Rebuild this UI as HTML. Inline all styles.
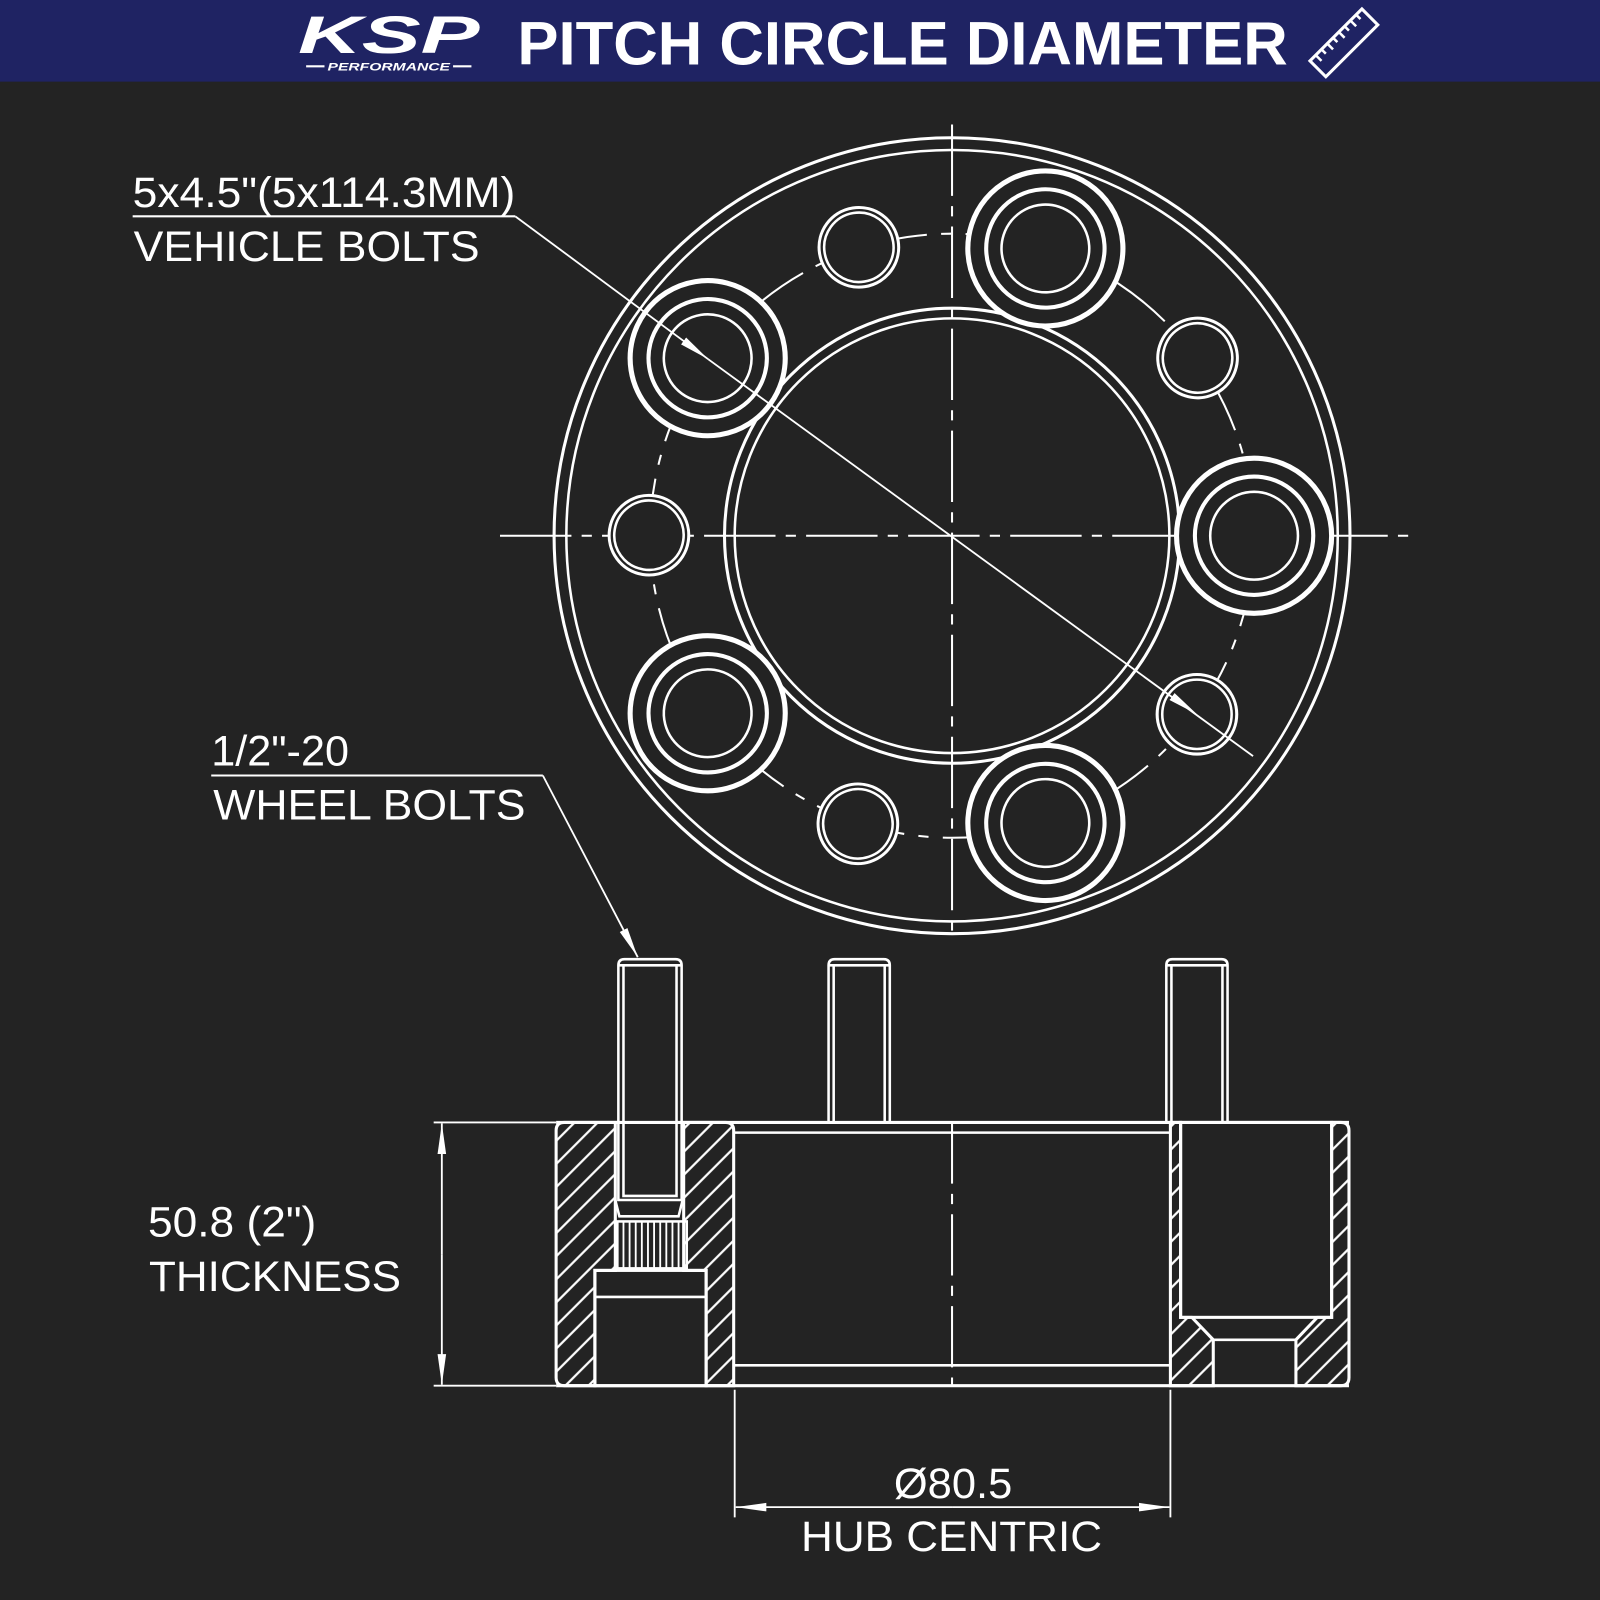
<!DOCTYPE html>
<html><head><meta charset="utf-8"><style>
html,body{margin:0;padding:0;background:#232323;width:1600px;height:1600px;overflow:hidden}
svg{display:block}
text{font-family:"Liberation Sans",sans-serif;fill:#fff}
</style></head><body>
<svg width="1600" height="1600" viewBox="0 0 1568 1568" xmlns="http://www.w3.org/2000/svg">
<defs>
<pattern id="h" patternUnits="userSpaceOnUse" width="16" height="16" patternTransform="rotate(-45)">
<rect width="16" height="16" fill="#232323"/><line x1="0" y1="8" x2="16" y2="8" stroke="#fff" stroke-width="2.2"/>
</pattern>
<marker id="a2" viewBox="0 0 10 10" refX="10" refY="5" markerWidth="30" markerHeight="14" markerUnits="userSpaceOnUse" orient="auto" preserveAspectRatio="none"><path d="M0,2 L10,5 L0,8z" fill="#fff"/></marker>
</defs>
<rect width="1568" height="1568" fill="#232323"/>
<rect width="1568" height="80" fill="#1f2363"/>
<text x="292" y="52" font-size="52" font-weight="bold" font-style="italic" textLength="178" lengthAdjust="spacingAndGlyphs">KSP</text>
<line x1="300" y1="65" x2="318" y2="65" stroke="#fff" stroke-width="2"/>
<line x1="444" y1="65" x2="462" y2="65" stroke="#fff" stroke-width="2"/>
<text x="321" y="69" font-size="11" font-weight="bold" font-style="italic" textLength="120" lengthAdjust="spacingAndGlyphs">PERFORMANCE</text>
<text x="507" y="63" font-size="60" font-weight="bold" textLength="755" lengthAdjust="spacingAndGlyphs">PITCH CIRCLE DIAMETER</text>
<g transform="translate(1317,42) rotate(-45)" stroke="#fff" stroke-width="3" fill="none">
<rect x="-36" y="-11" width="72" height="22"/>
<path d="M-28,-11v8M-20,-11v6M-12,-11v8M-4,-11v6M4,-11v8M12,-11v6M20,-11v8M28,-11v6" stroke-width="2.5"/>
</g>

<g fill="none" stroke="#fff">
<line x1="490" y1="525" x2="1383" y2="525" stroke-width="2" stroke-dasharray="70 10 10 10"/>
<line x1="933" y1="122" x2="933" y2="918" stroke-width="2" stroke-dasharray="70 10 10 10"/>
<circle cx="933" cy="525" r="390" stroke-width="3"/>
<circle cx="933" cy="525" r="378" stroke-width="2.5"/>
<circle cx="933" cy="525" r="223" stroke-width="3"/>
<circle cx="933" cy="525" r="213" stroke-width="2.5"/>
<circle cx="933" cy="525" r="296" stroke-width="2" stroke-dasharray="90 14 10 14"/>
<g id="lb"><circle cx="1229" cy="525" r="76" stroke-width="5" fill="#232323"/><circle cx="1229" cy="525" r="58" stroke-width="4"/><circle cx="1229" cy="525" r="43" stroke-width="2.5"/></g>
<use href="#lb" transform="rotate(-72 933 525)"/>
<use href="#lb" transform="rotate(-144 933 525)"/>
<use href="#lb" transform="rotate(72 933 525)"/>
<use href="#lb" transform="rotate(144 933 525)"/>
<g id="sb"><circle cx="1173" cy="700" r="39" stroke-width="3" fill="#232323"/><circle cx="1173" cy="700" r="34" stroke-width="2.5"/></g>
<use href="#sb" transform="rotate(-72 933 525)"/>
<use href="#sb" transform="rotate(-144 933 525)"/>
<use href="#sb" transform="rotate(72 933 525)"/>
<use href="#sb" transform="rotate(144 933 525)"/>
<line x1="130" y1="212" x2="505" y2="212" stroke-width="2"/>
<line x1="505" y1="212" x2="694" y2="352" stroke-width="1.8" marker-end="url(#a2)"/>
<line x1="694" y1="352" x2="1228" y2="741" stroke-width="1.8"/>
<line x1="1100" y1="648" x2="1173" y2="700" stroke-width="0.1" marker-end="url(#a2)"/>
<line x1="207" y1="760" x2="532" y2="760" stroke-width="2"/>
<line x1="532" y1="760" x2="625" y2="938" stroke-width="1.8" marker-end="url(#a2)"/>

<g stroke-width="2.5">
<path d="M606,1100V946q0,-6 6,-6h50q6,0 6,6V1100"/><path d="M611,1100V946M663,1100V946M606,946h62"/>
<path d="M812,1100V946q0,-6 6,-6h48q6,0 6,6V1100"/><path d="M817,1100V946M867,1100V946M812,946h60"/>
<path d="M1143,1100V946q0,-6 6,-6h48q6,0 6,6V1100"/><path d="M1148,1100V946M1198,1100V946M1143,946h60"/>
</g>
<path d="M553,1100H603V1245H583V1358H553q-8,0 -8,-8V1108q0,-8 8,-8z" fill="url(#h)" stroke-width="3"/>
<path d="M670,1100H711q8,0 8,8V1358H692V1245H670z" fill="url(#h)" stroke-width="3"/>
<path d="M1147,1100H1157V1291H1168L1189,1313V1358H1147z" fill="url(#h)" stroke-width="3"/>
<path d="M1305,1100H1314q8,0 8,8V1350q0,8 -8,8H1270V1313L1291,1291H1305z" fill="url(#h)" stroke-width="3"/>
<line x1="545" y1="1100" x2="1322" y2="1100" stroke-width="3"/>
<line x1="719" y1="1110" x2="1147" y2="1110" stroke-width="2.5"/>
<line x1="545" y1="1358" x2="1322" y2="1358" stroke-width="3"/>
<line x1="719" y1="1338" x2="1147" y2="1338" stroke-width="2.5"/>
<rect x="1157" y="1100" width="148" height="191" stroke-width="3"/>
<line x1="1189" y1="1313" x2="1270" y2="1313" stroke-width="2.5"/>
<line x1="933" y1="1100" x2="933" y2="1358" stroke-width="2" stroke-dasharray="60 10 10 10"/>
<path d="M606,1100V1176h62V1100M611,1100V1172h52V1100" stroke-width="2.5"/>
<path d="M603,1176l4,16h58l4,-16" stroke-width="2.5"/>
<rect x="605" y="1197" width="68" height="46" stroke-width="2.5"/>
<path d="M611,1197v46M617,1197v46M623,1197v46M629,1197v46M635,1197v46M641,1197v46M647,1197v46M653,1197v46M659,1197v46M665,1197v46" stroke-width="1.8"/>
<rect x="583" y="1245" width="109" height="113" stroke-width="3"/>
<line x1="583" y1="1271" x2="692" y2="1271" stroke-width="2.5"/>
<line x1="425" y1="1100" x2="545" y2="1100" stroke-width="1.8"/>
<line x1="425" y1="1358" x2="545" y2="1358" stroke-width="1.8"/>
<line x1="433" y1="1229" x2="433" y2="1101" stroke-width="1.8" marker-end="url(#a2)"/>
<line x1="433" y1="1229" x2="433" y2="1357" stroke-width="1.8" marker-end="url(#a2)"/>
<line x1="720" y1="1362" x2="720" y2="1487" stroke-width="1.8"/>
<line x1="1147" y1="1362" x2="1147" y2="1487" stroke-width="1.8"/>
<line x1="933" y1="1477" x2="721" y2="1477" stroke-width="1.8" marker-end="url(#a2)"/>
<line x1="933" y1="1477" x2="1146" y2="1477" stroke-width="1.8" marker-end="url(#a2)"/>
</g>

<g font-size="42">
<text x="130" y="203" textLength="375" lengthAdjust="spacingAndGlyphs">5x4.5"(5x114.3MM)</text>
<text x="131" y="256" textLength="339" lengthAdjust="spacingAndGlyphs">VEHICLE BOLTS</text>
<text x="207" y="750" textLength="135" lengthAdjust="spacingAndGlyphs">1/2"-20</text>
<text x="209" y="803" textLength="306" lengthAdjust="spacingAndGlyphs">WHEEL BOLTS</text>
<text x="145" y="1212" textLength="165" lengthAdjust="spacingAndGlyphs">50.8 (2")</text>
<text x="146" y="1265" textLength="247" lengthAdjust="spacingAndGlyphs">THICKNESS</text>
<text x="876" y="1468" textLength="116" lengthAdjust="spacingAndGlyphs">Ø80.5</text>
<text x="785" y="1520" textLength="295" lengthAdjust="spacingAndGlyphs">HUB CENTRIC</text>
</g>
</svg>
</body></html>
